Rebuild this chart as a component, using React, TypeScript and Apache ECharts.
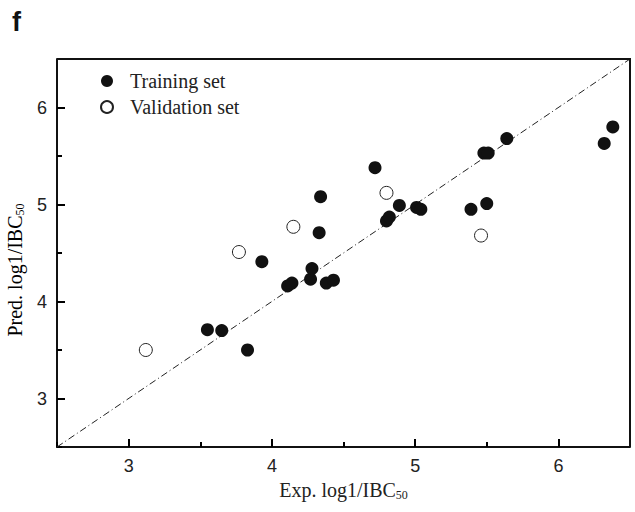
import React, { useEffect, useRef } from "react";
import * as echarts from "echarts";

const trainingX = [3.55, 3.65, 3.83, 3.93, 4.11, 4.14, 4.27, 4.28, 4.33, 4.34, 4.38, 4.43, 4.72, 4.8, 4.82, 4.89, 5.01, 5.04, 5.39, 5.5, 5.48, 5.51, 5.64, 6.32, 6.38];
const trainingY = [3.71, 3.7, 3.5, 4.41, 4.16, 4.19, 4.23, 4.34, 4.71, 5.08, 4.19, 4.22, 5.38, 4.83, 4.87, 4.99, 4.97, 4.95, 4.95, 5.01, 5.53, 5.53, 5.68, 5.63, 5.8];
const validationX = [3.12, 3.77, 4.15, 4.8, 5.46];
const validationY = [3.5, 4.51, 4.77, 5.12, 4.68];
const diagonal = [2.5, 6.5];
const majorTicks = [3, 4, 5, 6];

const serif = "'Liberation Serif', 'Times New Roman', serif";
const sans = "'Liberation Sans', Arial, sans-serif";

function makeMain(extra: any) {
  return {
    type: "value",
    min: 2.5,
    max: 6.5,
    interval: 0.5,
    splitLine: { show: true, lineStyle: { color: "rgba(0,0,0,0)" } },
    axisLine: { show: true, onZero: false, lineStyle: { color: "#111", width: 2 } },
    axisTick: {
      show: true,
      inside: true,
      length: 8,
      customValues: majorTicks.slice(),
      lineStyle: { color: "#000", width: 2 },
    },
    axisLabel: {
      fontFamily: sans,
      fontSize: 18,
      color: "#222",
      margin: 10,
      customValues: majorTicks.slice(),
    },
    ...extra,
  };
}

function makeMinor(position: string) {
  return {
    type: "value",
    position,
    min: 2.5,
    max: 6.5,
    interval: 0.5,
    splitLine: { show: true, lineStyle: { color: "rgba(0,0,0,0)" } },
    axisLine: { show: false },
    axisTick: { show: true, inside: true, length: 5, lineStyle: { color: "#000", width: 2 } },
    axisLabel: { show: false },
  };
}

export default function App() {
  const ref = useRef<HTMLDivElement>(null);
  useEffect(() => {
    if (!ref.current) return;
    const chart = echarts.init(ref.current, null, { renderer: "svg" });
    const makeRich = () => ({
      a: { fontFamily: serif, fontSize: 20, color: "#222" },
      b: { fontFamily: serif, fontSize: 12, color: "#222", padding: [10, 0, 0, 0] },
    });
    chart.setOption({
      animation: false,
      backgroundColor: "#fff",
      grid: { left: 57, right: 5, top: 59, bottom: 65 },
      graphic: [
        {
          type: "text",
          left: 12,
          top: 8,
          style: { text: "f", font: `bold 27px ${sans}`, fill: "#111" },
        },
        {
          type: "polyline",
          shape: { points: [[57, 59], [630, 59], [630, 447]] },
          style: { fill: null, stroke: "#111", lineWidth: 2 },
          z: 10,
        },
        {
          type: "text",
          x: 15,
          y: 270,
          rotation: Math.PI / 2,
          style: {
            text: "{a|Pred. log1/IBC}{b|50}",
            rich: makeRich(),
            align: "center",
            verticalAlign: "middle",
          },
        },
      ],
      legend: {
        orient: "vertical",
        left: 100,
        top: 71,
        padding: 0,
        itemWidth: 12,
        itemHeight: 12,
        itemGap: 6,
        data: ["Training set", "Validation set"],
        textStyle: { fontFamily: serif, fontSize: 20, color: "#222", padding: [0, 0, 0, 12] },
      },
      xAxis: [
        makeMain({
          name: "{a|Exp. log1/IBC}{b|50}",
          nameLocation: "middle",
          nameGap: 32,
          nameTextStyle: { rich: makeRich() },
        }),
        makeMinor("bottom"),
      ],
      yAxis: [makeMain({}), makeMinor("left")],
      series: [
        {
          name: "diag",
          type: "line",
          data: [[diagonal[0], diagonal[0]], [diagonal[1], diagonal[1]]],
          symbol: "none",
          lineStyle: { color: "#222", width: 1, type: [7, 3, 1, 3] },
          silent: true,
          z: 1,
        },
        {
          name: "Training set",
          type: "scatter",
          symbol: "circle",
          symbolSize: 13,
          itemStyle: { color: "#111", opacity: 1 },
          data: trainingX.map((x, i) => [x, trainingY[i]]),
          z: 3,
        },
        {
          name: "Validation set",
          type: "scatter",
          symbol: "circle",
          symbolSize: 13,
          itemStyle: { color: "#fff", borderColor: "#222", borderWidth: 1, opacity: 1 },
          data: validationX.map((x, i) => [x, validationY[i]]),
          z: 3,
        },
      ],
    });
    return () => chart.dispose();
  }, []);
  return (
    <div
      ref={ref}
      style={{ position: "fixed", left: 0, top: 0, width: 635, height: 512, background: "#fff" }}
    />
  );
}
